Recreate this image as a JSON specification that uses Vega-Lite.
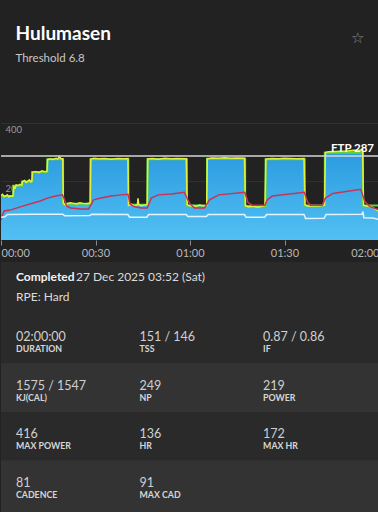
{
  "$schema": "https://vega.github.io/schema/vega-lite/v6.json",
  "background": "#222222",
  "padding": {"left": 0, "right": 0, "top": 24, "bottom": 0},
  "spacing": 0,
  "title": {"text": "☆", "anchor": "end", "fontSize": 15, "fontWeight": "normal", "color": "#8a8a8a", "dx": -16, "dy": 6, "offset": -15},
  "config": {
    "font": "Lato",
    "view": {"stroke": null},
    "concat": {"spacing": 0}
  },
  "datasets": {
    "ride": [
      {"t": 0, "p": 152}, {"t": 0.5, "p": 156}, {"t": 1, "p": 148}, {"t": 1.5, "p": 150}, {"t": 2, "p": 154}, {"t": 2.5, "p": 147}, {"t": 3, "p": 151}, {"t": 3.5, "p": 149}, {"t": 3.8, "p": 150},
      {"t": 4.1, "p": 182}, {"t": 4.5, "p": 178}, {"t": 4.8, "p": 188}, {"t": 5.5, "p": 186}, {"t": 6, "p": 190}, {"t": 6.6, "p": 188},
      {"t": 6.8, "p": 199}, {"t": 7.5, "p": 203}, {"t": 8, "p": 196}, {"t": 8.5, "p": 200}, {"t": 9, "p": 205}, {"t": 9.5, "p": 198}, {"t": 9.8, "p": 201},
      {"t": 10, "p": 231}, {"t": 11, "p": 234}, {"t": 12, "p": 230}, {"t": 13, "p": 236}, {"t": 14, "p": 233}, {"t": 14.6, "p": 235},
      {"t": 14.8, "p": 274}, {"t": 15.5, "p": 277}, {"t": 16.5, "p": 275}, {"t": 17.5, "p": 279}, {"t": 18, "p": 276}, {"t": 18.5, "p": 284}, {"t": 19, "p": 278}, {"t": 19.6, "p": 277},
      {"t": 19.8, "p": 126}, {"t": 20.5, "p": 118}, {"t": 21, "p": 124}, {"t": 22, "p": 127}, {"t": 23, "p": 125}, {"t": 24, "p": 123}, {"t": 25, "p": 127}, {"t": 26, "p": 125}, {"t": 27, "p": 124}, {"t": 28.3, "p": 126},
      {"t": 28.5, "p": 276}, {"t": 29.5, "p": 279}, {"t": 31, "p": 277}, {"t": 33, "p": 278}, {"t": 35, "p": 276}, {"t": 37, "p": 278}, {"t": 39, "p": 277}, {"t": 40.3, "p": 278},
      {"t": 40.5, "p": 118}, {"t": 41.5, "p": 122}, {"t": 42.5, "p": 116}, {"t": 43.3, "p": 120}, {"t": 43.5, "p": 142}, {"t": 43.7, "p": 121}, {"t": 44.5, "p": 117}, {"t": 45.5, "p": 119}, {"t": 46.4, "p": 121},
      {"t": 46.6, "p": 277}, {"t": 48, "p": 278}, {"t": 50, "p": 276}, {"t": 52, "p": 279}, {"t": 54, "p": 277}, {"t": 56, "p": 278}, {"t": 58.8, "p": 277},
      {"t": 59.1, "p": 120}, {"t": 60, "p": 116}, {"t": 61, "p": 118}, {"t": 62, "p": 115}, {"t": 63, "p": 119}, {"t": 64, "p": 117}, {"t": 65.3, "p": 118},
      {"t": 65.5, "p": 277}, {"t": 67, "p": 280}, {"t": 69, "p": 279}, {"t": 71, "p": 281}, {"t": 73, "p": 279}, {"t": 75, "p": 280}, {"t": 77.3, "p": 279},
      {"t": 77.6, "p": 117}, {"t": 78.5, "p": 113}, {"t": 80, "p": 115}, {"t": 81.5, "p": 112}, {"t": 83, "p": 116}, {"t": 83.8, "p": 118},
      {"t": 84.1, "p": 276}, {"t": 86, "p": 278}, {"t": 88, "p": 277}, {"t": 90, "p": 279}, {"t": 92, "p": 278}, {"t": 94, "p": 277}, {"t": 96.2, "p": 278},
      {"t": 96.5, "p": 120}, {"t": 97.5, "p": 115}, {"t": 99, "p": 117}, {"t": 100.5, "p": 116}, {"t": 102, "p": 118}, {"t": 102.7, "p": 119},
      {"t": 103, "p": 299}, {"t": 104, "p": 301}, {"t": 106, "p": 302}, {"t": 108, "p": 303}, {"t": 110, "p": 304}, {"t": 112, "p": 306}, {"t": 114, "p": 307}, {"t": 114.8, "p": 308},
      {"t": 115.1, "p": 118}, {"t": 116, "p": 116}, {"t": 117, "p": 114}, {"t": 118, "p": 111}, {"t": 119, "p": 104}, {"t": 120, "p": 98}
    ],
    "target": [
      {"t": 0, "v": 150}, {"t": 3.9, "v": 185}, {"t": 6.7, "v": 200}, {"t": 9.9, "v": 232}, {"t": 14.7, "v": 276}, {"t": 19.7, "v": 124},
      {"t": 28.4, "v": 276}, {"t": 40.4, "v": 120}, {"t": 46.5, "v": 276}, {"t": 59, "v": 118}, {"t": 65.4, "v": 277}, {"t": 77.5, "v": 116},
      {"t": 84, "v": 276}, {"t": 96.4, "v": 118}, {"t": 102.8, "v": 298}, {"t": 114.9, "v": 118}, {"t": 120, "v": 100}
    ],
    "hr": [
      {"t": 0, "v": 68}, {"t": 0.3, "v": 82}, {"t": 1, "v": 99}, {"t": 2.9, "v": 102}, {"t": 6.1, "v": 113}, {"t": 10.2, "v": 126}, {"t": 12.5, "v": 133}, {"t": 14.7, "v": 143}, {"t": 17.3, "v": 150}, {"t": 19.5, "v": 154},
      {"t": 20.2, "v": 137}, {"t": 20.8, "v": 116}, {"t": 22.1, "v": 109}, {"t": 25.3, "v": 106}, {"t": 27.8, "v": 106},
      {"t": 28.5, "v": 119}, {"t": 29.4, "v": 137}, {"t": 31.7, "v": 143}, {"t": 34.9, "v": 150}, {"t": 38.1, "v": 154}, {"t": 40.3, "v": 156},
      {"t": 41, "v": 123}, {"t": 42.2, "v": 114}, {"t": 44.5, "v": 109}, {"t": 46.4, "v": 109},
      {"t": 47.7, "v": 143}, {"t": 49.9, "v": 154}, {"t": 54.1, "v": 157}, {"t": 58.2, "v": 163},
      {"t": 59.8, "v": 126}, {"t": 61.4, "v": 109}, {"t": 64.6, "v": 109},
      {"t": 66.2, "v": 137}, {"t": 69.1, "v": 154}, {"t": 77.4, "v": 163},
      {"t": 78.4, "v": 128}, {"t": 79.7, "v": 119}, {"t": 83.8, "v": 119},
      {"t": 84.5, "v": 137}, {"t": 86.1, "v": 150}, {"t": 96.3, "v": 163},
      {"t": 97.3, "v": 131}, {"t": 98.2, "v": 119}, {"t": 102, "v": 119},
      {"t": 103, "v": 143}, {"t": 105.3, "v": 159}, {"t": 114.2, "v": 173},
      {"t": 115.5, "v": 131}, {"t": 117.1, "v": 114}, {"t": 120, "v": 103}
    ],
    "cad": [
      {"t": 0, "v": 78}, {"t": 1.3, "v": 79}, {"t": 2, "v": 87}, {"t": 10, "v": 88}, {"t": 19.6, "v": 88},
      {"t": 20.2, "v": 83}, {"t": 28.2, "v": 84}, {"t": 28.8, "v": 88}, {"t": 40.3, "v": 87},
      {"t": 40.8, "v": 78}, {"t": 46.3, "v": 78}, {"t": 46.9, "v": 87}, {"t": 58.8, "v": 87},
      {"t": 59.3, "v": 80}, {"t": 65.2, "v": 80}, {"t": 65.8, "v": 87}, {"t": 77.3, "v": 87},
      {"t": 77.8, "v": 78}, {"t": 83.7, "v": 78}, {"t": 84.3, "v": 87}, {"t": 96.2, "v": 87},
      {"t": 96.7, "v": 73}, {"t": 102.6, "v": 74}, {"t": 103.2, "v": 87}, {"t": 114.6, "v": 88},
      {"t": 114.9, "v": 97}, {"t": 115.2, "v": 76}, {"t": 118, "v": 75}, {"t": 120, "v": 70}
    ],
    "ftp": [{"ftp": 287, "label": "FTP 287", "end": 120}],
    "info": [
      {"line": "a", "col": 1, "txt": "Completed", "kind": "bold"},
      {"line": "a", "col": 1, "txt": "27 Dec 2025 03:52 (Sat)", "kind": "date"},
      {"line": "b", "col": 1, "txt": "RPE: Hard", "kind": "rpe"}
    ],
    "stats": [
      {"row": 1, "col": 1, "val": "02:00:00", "lab": "DURATION"},
      {"row": 1, "col": 2, "val": "151 / 146", "lab": "TSS"},
      {"row": 1, "col": 3, "val": "0.87 / 0.86", "lab": "IF"},
      {"row": 2, "col": 1, "val": "1575 / 1547", "lab": "KJ(CAL)"},
      {"row": 2, "col": 2, "val": "249", "lab": "NP"},
      {"row": 2, "col": 3, "val": "219", "lab": "POWER"},
      {"row": 3, "col": 1, "val": "416", "lab": "MAX POWER"},
      {"row": 3, "col": 2, "val": "136", "lab": "HR"},
      {"row": 3, "col": 3, "val": "172", "lab": "MAX HR"},
      {"row": 4, "col": 1, "val": "81", "lab": "CADENCE"},
      {"row": 4, "col": 2, "val": "91", "lab": "MAX CAD"}
    ]
  },
  "vconcat": [
    {
      "width": 378,
      "height": 126,
      "title": {"text": "Hulumasen", "subtitle": "Threshold 6.8", "anchor": "start", "dx": 15, "fontSize": 19, "fontWeight": "bold", "color": "#ffffff", "subtitleFontSize": 11.5, "subtitleColor": "#c8c8c8", "subtitlePadding": 9, "offset": 50},
      "layer": [
        {
          "data": {"name": "ride"},
          "mark": {"type": "area", "clip": true, "color": {"gradient": "linear", "x1": 0, "y1": 0, "x2": 0, "y2": 1, "stops": [{"offset": 0, "color": "#2a9ae0"}, {"offset": 1, "color": "#52c0f2"}]}},
          "encoding": {
            "x": {"field": "t", "type": "quantitative", "scale": {"domain": [0, 120], "nice": false, "zero": false},
              "axis": {"title": " ", "titleFontSize": 1, "titlePadding": 0, "minExtent": 21, "values": [0, 30, 60, 90, 120], "labelExpr": "(datum.value < 60 ? '00' : (datum.value < 120 ? '01' : '02')) + ':' + (datum.value % 60 == 0 ? '00' : '30')", "labelFlush": true, "grid": false, "domain": false, "tickSize": 5, "tickColor": "#8a8a8a", "labelColor": "#b8b8b8", "labelFontSize": 11, "labelPadding": 2}},
            "y": {"field": "p", "type": "quantitative", "scale": {"domain": [0, 430], "nice": false},
              "axis": {"title": null, "values": [200, 400], "grid": true, "gridColor": "#303030", "domain": false, "ticks": false, "tickSize": 0, "labelAlign": "left", "labelBaseline": "top", "labelPadding": -4, "labelOffset": 2, "labelColor": "#9a9a9a", "labelFontSize": 9.5, "minExtent": 0, "maxExtent": 0}}
          }
        },
        {
          "data": {"name": "target"},
          "mark": {"type": "line", "clip": true, "interpolate": "step-after", "color": "#5fd43a", "strokeWidth": 2},
          "encoding": {"x": {"field": "t", "type": "quantitative"}, "y": {"field": "v", "type": "quantitative"}}
        },
        {
          "data": {"name": "ride"},
          "mark": {"type": "line", "clip": true, "color": "#e2f03c", "strokeWidth": 1.5},
          "encoding": {"x": {"field": "t", "type": "quantitative"}, "y": {"field": "p", "type": "quantitative"}}
        },
        {
          "data": {"name": "hr"},
          "mark": {"type": "line", "clip": true, "color": "#c93355", "strokeWidth": 1.5},
          "encoding": {"x": {"field": "t", "type": "quantitative"}, "y": {"field": "v", "type": "quantitative"}}
        },
        {
          "data": {"name": "cad"},
          "mark": {"type": "line", "clip": true, "color": "#e4f4ff", "strokeWidth": 1.5},
          "encoding": {"x": {"field": "t", "type": "quantitative"}, "y": {"field": "v", "type": "quantitative"}}
        },
        {
          "data": {"name": "ftp"},
          "mark": {"type": "rule", "clip": true, "color": "#d6d6d6", "strokeWidth": 1.5},
          "encoding": {"y": {"field": "ftp", "type": "quantitative"}}
        },
        {
          "data": {"name": "ftp"},
          "mark": {"type": "text", "align": "right", "baseline": "middle", "dx": -5, "dy": -7, "fontSize": 11.5, "fontWeight": "bold", "color": "#ffffff"},
          "encoding": {"x": {"field": "end", "type": "quantitative"}, "y": {"field": "ftp", "type": "quantitative"}, "text": {"field": "label"}}
        }
      ]
    },
    {
      "width": 378,
      "height": 53,
      "view": {"fill": "#2a2a2a"},
      "data": {"name": "info"},
      "encoding": {
        "x": {"field": "col", "type": "ordinal", "scale": {"type": "band", "domain": [1, 2, 3], "paddingInner": 0, "paddingOuter": 0.03}, "bandPosition": 0, "axis": null},
        "y": {"field": "line", "type": "ordinal", "scale": {"type": "point", "domain": ["a", "b"], "padding": 0.78}, "axis": null},
        "text": {"field": "txt"}
      },
      "layer": [
        {"transform": [{"filter": "datum.kind == 'bold'"}], "mark": {"type": "text", "align": "left", "baseline": "middle", "dx": 11.3, "dy": -1.5, "fontSize": 12, "fontWeight": "bold", "color": "#f2f2f2"}},
        {"transform": [{"filter": "datum.kind == 'date'"}], "mark": {"type": "text", "align": "left", "baseline": "middle", "dx": 71.3, "dy": -1.5, "fontSize": 12, "color": "#dcdcdc"}},
        {"transform": [{"filter": "datum.kind == 'rpe'"}], "mark": {"type": "text", "align": "left", "baseline": "middle", "dx": 11.3, "dy": -1.5, "fontSize": 12, "color": "#dcdcdc"}}
      ]
    },
    {
      "width": 378,
      "height": 197,
      "view": {"fill": "#333333"},
      "data": {"name": "stats"},
      "encoding": {
        "y": {"field": "row", "type": "ordinal", "scale": {"type": "band", "domain": [1, 2, 3, 4], "paddingInner": 0, "paddingOuter": 0.031, "align": 0}, "axis": null}
      },
      "layer": [
        {
          "mark": {"type": "rect"},
          "encoding": {
            "color": {"condition": {"test": "datum.row % 2 == 1", "value": "#2a2a2a"}, "value": "#333333"}
          }
        },
        {
          "mark": {"type": "text", "align": "left", "baseline": "middle", "dx": 11.3, "dy": -2, "fontSize": 12.5, "color": "#d0d0d0"},
          "encoding": {
            "x": {"field": "col", "type": "ordinal", "scale": {"type": "band", "domain": [1, 2, 3], "paddingInner": 0, "paddingOuter": 0.03}, "bandPosition": 0, "axis": null},
            "text": {"field": "val"}
          }
        },
        {
          "mark": {"type": "text", "align": "left", "baseline": "middle", "dx": 11.3, "dy": 10, "fontSize": 8.8, "fontWeight": "bold", "color": "#d6d6d6"},
          "encoding": {
            "x": {"field": "col", "type": "ordinal", "bandPosition": 0, "axis": null},
            "text": {"field": "lab"}
          }
        }
      ]
    }
  ]
}
